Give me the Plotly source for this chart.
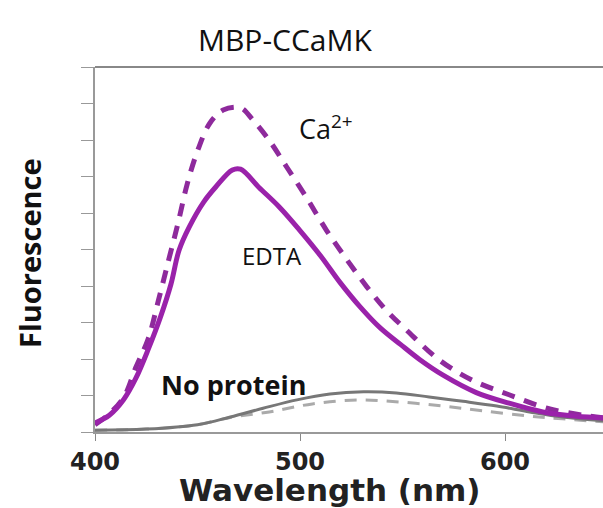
import plotly.graph_objects as go

# Wavelength (nm) and fluorescence (arbitrary units)
ca_wl = [400, 407, 414, 420, 426, 431, 436, 440.5, 445, 450, 456, 462.5, 471, 477, 485,
         493.5, 503, 513, 523, 532.7, 542, 552, 568, 584, 602, 620, 638, 650]
ca_val = [0.2, 0.5, 0.95, 1.78, 2.56, 3.62, 4.73, 5.72, 6.8, 7.7, 8.46, 8.82, 8.88, 8.55, 7.99,
          7.26, 6.44, 5.52, 4.71, 3.97, 3.34, 2.79, 1.97, 1.42, 1.02, 0.66, 0.46, 0.38]

edta_wl = [400, 407, 414, 420, 426, 432, 437, 441, 446, 453, 459, 467, 471, 480, 490,
           500, 510, 519.5, 529, 539, 549, 558.5, 570, 586, 602, 618.5, 635, 650]
edta_val = [0.25, 0.46, 0.89, 1.48, 2.27, 3.16, 4.04, 4.98, 5.62, 6.3, 6.72, 7.18, 7.2, 6.7, 6.16,
            5.52, 4.83, 4.1, 3.45, 2.86, 2.4, 1.98, 1.55, 1.08, 0.79, 0.55, 0.43, 0.38]

noprot_wl = [400, 425, 450, 466, 482, 498.5, 514.6, 531, 547, 563, 579.5, 596, 612, 628, 650]
noprot_val = [0.05, 0.08, 0.2, 0.41, 0.65, 0.88, 1.04, 1.1, 1.07, 0.96, 0.84, 0.71, 0.55, 0.41, 0.3]

noprot2_wl = [400, 425, 450, 466, 485, 506, 528, 549, 570, 589, 611, 628, 650]
noprot2_val = [0.05, 0.08, 0.2, 0.4, 0.55, 0.77, 0.88, 0.82, 0.71, 0.58, 0.44, 0.36, 0.27]

x_ticks = [400, 500, 600]
x_tick_labels = ["400", "500", "600"]
y_ticks = list(range(0, 11))

# plot area in page pixels (body margin removed below)
PL, PT, PR, PB = 95, 67, 603, 432
PW, PH = PR - PL, PB - PT
X_MIN = 400
X_MAX = 400 + (PR - PL) / 2.05


def px(X):
    return (X - PL) / PW


def py(Y):
    return (PB - Y) / PH


fig = go.Figure()
fig.add_trace(go.Scatter(x=noprot2_wl, y=noprot2_val, mode="lines", line_shape="spline",
                         line=dict(color="#aaaaaa", width=3, dash="12px,9px"), showlegend=False))
fig.add_trace(go.Scatter(x=noprot_wl, y=noprot_val, mode="lines", line_shape="spline",
                         line=dict(color="#777777", width=3), showlegend=False))
fig.add_trace(go.Scatter(x=ca_wl, y=ca_val, mode="lines", line_shape="spline",
                         line=dict(color="#8e2a9c", width=5, dash="13px,10px"), showlegend=False))
fig.add_trace(go.Scatter(x=edta_wl, y=edta_val, mode="lines", line_shape="spline",
                         line=dict(color="#9a22aa", width=5), showlegend=False))

fig.update_layout(
    width=603, height=508,
    margin=dict(l=PL, r=603 - PR, t=PT, b=508 - PB),
    paper_bgcolor="white", plot_bgcolor="white",
    xaxis=dict(range=[X_MIN, X_MAX], tickvals=x_ticks, ticktext=x_tick_labels,
               showgrid=False, zeroline=False, showline=True, linecolor="#999999", linewidth=2,
               ticks="outside", ticklen=7, tickwidth=1, tickcolor="#888888", automargin=False,
               tickfont=dict(family="DejaVu Sans", size=24, color="#222222", weight="bold")),
    yaxis=dict(range=[0, 10], tickvals=y_ticks, showticklabels=False, automargin=False,
               showgrid=False, zeroline=False, showline=True, linecolor="#999999", linewidth=2,
               ticks="outside", ticklen=12, tickwidth=1, tickcolor="#999999"),
    shapes=[dict(type="line", xref="paper", yref="paper", x0=0, x1=1, y0=1, y1=1,
                 line=dict(color="#888888", width=2))],
    annotations=[
        dict(text="MBP-CCaMK", xref="paper", yref="paper", x=px(285), y=py(40),
             showarrow=False, xanchor="center", yanchor="middle",
             font=dict(family="Open Sans", size=30, color="#111111")),
        dict(text="Fluorescence", xref="paper", yref="paper", x=px(29), y=py(253),
             showarrow=False, xanchor="center", yanchor="middle", textangle=-90,
             font=dict(family="Open Sans", size=29, color="#111111", weight="bold")),
        dict(text="Wavelength (nm)", xref="paper", yref="paper", x=px(330), y=py(490),
             showarrow=False, xanchor="center", yanchor="middle",
             font=dict(family="DejaVu Sans", size=31, color="#222222", weight="bold")),
        dict(text="Ca<sup>2+</sup>", xref="paper", yref="paper", x=px(326), y=py(127),
             showarrow=False, xanchor="center", yanchor="middle",
             font=dict(family="Open Sans", size=27, color="#111111")),
        dict(text="EDTA", xref="paper", yref="paper", x=px(272), y=py(255),
             showarrow=False, xanchor="center", yanchor="middle",
             font=dict(family="Open Sans", size=24, color="#111111")),
        dict(text="No protein", xref="paper", yref="paper", x=px(233), y=py(384),
             showarrow=False, xanchor="center", yanchor="middle",
             font=dict(family="Open Sans", size=27, color="#111111", weight="bold")),
    ],
)

fig.write_html("out.html", config={"displayModeBar": False},
               post_script="document.body.style.margin='0px';document.body.style.overflow='hidden';")
